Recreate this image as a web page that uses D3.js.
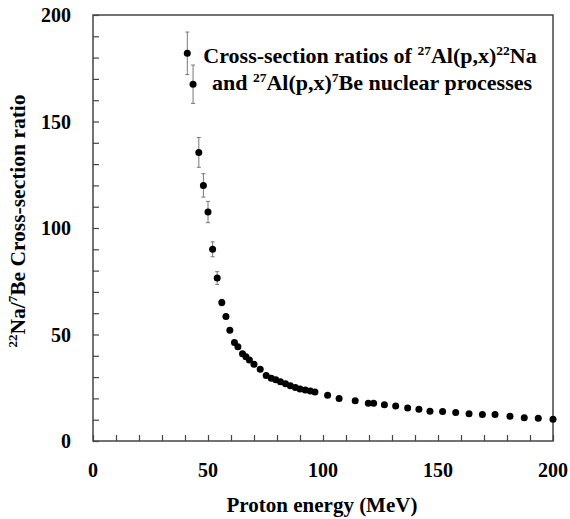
<!DOCTYPE html>
<html><head><meta charset="utf-8">
<script src="https://cdn.jsdelivr.net/npm/d3@7"></script>
<style>body{margin:0;background:#fff;} svg{display:block;}</style>
</head><body>
<svg id="c" width="570" height="519"></svg>
<script>
const energy = [41, 43.5, 46, 48, 50, 52, 54, 56, 57.8, 59.5, 61.5, 63, 65, 66.5, 68, 70, 72.7, 75.3, 77.5, 79.5, 81.5, 83.7, 85.8, 88, 90, 92.3, 94.5, 96.5, 102, 107, 114, 119.7, 122, 126.7, 131.6, 136.8, 141.7, 146.5, 152, 157.7, 163.5, 169.3, 174.8, 181.3, 187.5, 193.6, 200];
const ratio = [182, 167.5, 135.5, 120, 107.5, 90, 76.5, 65, 58.5, 52, 46.3, 44.3, 41, 39.5, 38, 36, 33.7, 30.8, 29.5, 28.7, 27.8, 26.9, 25.9, 25.1, 24.4, 23.9, 23.5, 23, 21.5, 19.9, 18.9, 17.7, 17.7, 17, 16.4, 15.5, 14.9, 14, 13.9, 13.4, 12.8, 12.5, 12.5, 11.6, 10.9, 10.7, 10.2];
const ratioErr = [10, 9, 7, 5.5, 5, 3.5, 3, 1.5, 1, 1, 0.8, 0.8, 0.7, 0.7, 0.6, 0.6, 0.5, 0.5, 0.5, 0.5, 0.4, 0.4, 0.4, 0.4, 0.4, 0.4, 0.4, 0.4, 0.3, 0.3, 0.3, 0.3, 0.3, 0.3, 0.3, 0.3, 0.3, 0.3, 0.3, 0.3, 0.3, 0.3, 0.3, 0.3, 0.3, 0.3, 0.3];
const xMajorTicks = [0, 50, 100, 150, 200];
const yMajorTicks = [0, 50, 100, 150, 200];

const svg = d3.select("#c");
const m = {l: 93, r: 553, t: 15, b: 441};
const x = d3.scaleLinear().domain([0, 200]).range([m.l, m.r]);
const y = d3.scaleLinear().domain([0, 200]).range([m.b, m.t]);
const font = "'Liberation Serif', 'Times New Roman', serif";

// frame
svg.append("rect").attr("x", m.l).attr("y", m.t).attr("width", m.r - m.l).attr("height", m.b - m.t)
  .attr("fill", "none").attr("stroke", "#444").attr("stroke-width", 1.5);

// axes (ticks inward)
const xAxis = d3.axisBottom(x).tickValues(d3.range(0, 201, 10)).tickSize(-6).tickFormat("");
svg.append("g").attr("transform", `translate(0,${m.b})`).call(xAxis)
  .call(g => { g.select(".domain").remove(); g.selectAll("line").attr("stroke", "#444").attr("stroke-width", 1.2); });
const yAxis = d3.axisLeft(y).tickValues(d3.range(0, 201, 10)).tickSize(-6).tickFormat("");
svg.append("g").attr("transform", `translate(${m.l},0)`).call(yAxis)
  .call(g => { g.select(".domain").remove(); g.selectAll("line").attr("stroke", "#444").attr("stroke-width", 1.2); });

// tick labels
svg.append("g").selectAll("text").data(xMajorTicks).join("text")
  .attr("x", d => x(d)).attr("y", 477).attr("text-anchor", "middle")
  .attr("font-family", font).attr("font-weight", "bold").attr("font-size", 20).text(d => d);
svg.append("g").selectAll("text").data(yMajorTicks).join("text")
  .attr("x", m.l - 22).attr("y", d => y(d) + 7).attr("text-anchor", "end")
  .attr("font-family", font).attr("font-weight", "bold").attr("font-size", 20).text(d => d);

// axis titles
svg.append("text").attr("x", 322).attr("y", 512).attr("text-anchor", "middle")
  .attr("font-family", font).attr("font-weight", "bold").attr("font-size", 21).text("Proton energy (MeV)");
const yt = svg.append("text").attr("transform", `translate(25,221) rotate(-90)`)
  .attr("text-anchor", "middle").attr("font-family", font).attr("font-weight", "bold").attr("font-size", 21.5);
yt.append("tspan").attr("font-size", 13).attr("dy", -8).text("22");
yt.append("tspan").attr("dy", 8).text("Na/");
yt.append("tspan").attr("font-size", 13).attr("dy", -8).text("7");
yt.append("tspan").attr("dy", 8).text("Be Cross-section ratio");

// error bars
const data = energy.map((e, i) => ({e, r: ratio[i], s: ratioErr[i]}));
const eb = svg.append("g").attr("stroke", "#777").attr("stroke-width", 1);
eb.selectAll("line.v").data(data).join("line").attr("class", "v")
  .attr("x1", d => x(d.e)).attr("x2", d => x(d.e)).attr("y1", d => y(d.r - d.s)).attr("y2", d => y(d.r + d.s));
eb.selectAll("line.t").data(data).join("line").attr("class", "t")
  .attr("x1", d => x(d.e) - 2).attr("x2", d => x(d.e) + 2).attr("y1", d => y(d.r + d.s)).attr("y2", d => y(d.r + d.s));
eb.selectAll("line.b").data(data).join("line").attr("class", "b")
  .attr("x1", d => x(d.e) - 2).attr("x2", d => x(d.e) + 2).attr("y1", d => y(d.r - d.s)).attr("y2", d => y(d.r - d.s));

// points
svg.append("g").selectAll("circle").data(data).join("circle")
  .attr("cx", d => x(d.e)).attr("cy", d => y(d.r)).attr("r", 3.5).attr("fill", "#000");

// legend text
const lg = svg.append("g").attr("font-family", font).attr("font-weight", "bold").attr("font-size", 22).attr("text-anchor", "middle");
const l1 = lg.append("text").attr("x", 370).attr("y", 63);
l1.append("tspan").text("Cross-section ratios of ");
l1.append("tspan").attr("font-size", 13.5).attr("dy", -8).text("27");
l1.append("tspan").attr("dy", 8).text("Al(p,x)");
l1.append("tspan").attr("font-size", 13.5).attr("dy", -8).text("22");
l1.append("tspan").attr("dy", 8).text("Na");
const l2 = lg.append("text").attr("x", 372).attr("y", 90);
l2.append("tspan").text("and ");
l2.append("tspan").attr("font-size", 13.5).attr("dy", -8).text("27");
l2.append("tspan").attr("dy", 8).text("Al(p,x)");
l2.append("tspan").attr("font-size", 13.5).attr("dy", -8).text("7");
l2.append("tspan").attr("dy", 8).text("Be nuclear processes");
</script>
</body></html>
